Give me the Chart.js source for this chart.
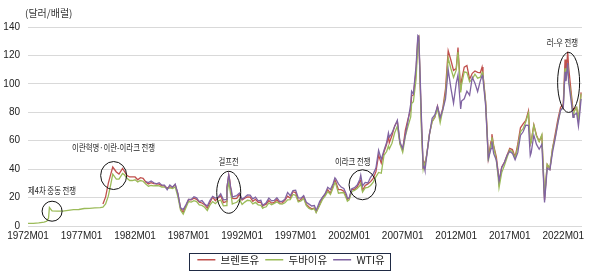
<!DOCTYPE html>
<html>
<head>
<meta charset="utf-8">
<script src="https://cdn.jsdelivr.net/npm/chart.js@4/dist/chart.umd.min.js"></script>
<style>
  body { margin: 0; background: #fff; }
  #oil { display: block; }
</style>
</head>
<body>
<canvas id="oil" width="590" height="275"></canvas>
<script>
// monthly oil prices, sampled (USD per barrel)
var periods = [
  "1972M01", "1972M07",
  "1973M01", "1973M07", "1973M10", "1973M12",
  "1974M01", "1974M04", "1974M10",
  "1975M04", "1975M10",
  "1976M04", "1976M10",
  "1977M04", "1977M10",
  "1978M04", "1978M10",
  "1979M01", "1979M04", "1979M07", "1979M10", "1979M12",
  "1980M04", "1980M07", "1980M11",
  "1981M01", "1981M04", "1981M07", "1981M10",
  "1982M01", "1982M04", "1982M07", "1982M10",
  "1983M01", "1983M04", "1983M07", "1983M10",
  "1984M01", "1984M04", "1984M07", "1984M10",
  "1985M01", "1985M04", "1985M07", "1985M10",
  "1986M01", "1986M04", "1986M07", "1986M10",
  "1987M01", "1987M04", "1987M07", "1987M10",
  "1988M01", "1988M04", "1988M07", "1988M10",
  "1989M01", "1989M04", "1989M07", "1989M10",
  "1990M01", "1990M04", "1990M07", "1990M08", "1990M10", "1990M11", "1990M12",
  "1991M01", "1991M02", "1991M04", "1991M07", "1991M10",
  "1992M01", "1992M04", "1992M07", "1992M10",
  "1993M01", "1993M04", "1993M07", "1993M10", "1993M12",
  "1994M01", "1994M04", "1994M07", "1994M10",
  "1995M01", "1995M04", "1995M07", "1995M10",
  "1996M01", "1996M04", "1996M07", "1996M10",
  "1997M01", "1997M04", "1997M07", "1997M10",
  "1998M01", "1998M04", "1998M07", "1998M10", "1998M12",
  "1999M01", "1999M04", "1999M07", "1999M10",
  "2000M01", "2000M04", "2000M07", "2000M09", "2000M10",
  "2001M01", "2001M04", "2001M07", "2001M10", "2001M11",
  "2002M01", "2002M04", "2002M07", "2002M10",
  "2003M01", "2003M02", "2003M04", "2003M07", "2003M10",
  "2004M01", "2004M04", "2004M07", "2004M10",
  "2005M01", "2005M04", "2005M07", "2005M09", "2005M10",
  "2006M01", "2006M04", "2006M07", "2006M10",
  "2007M01", "2007M04", "2007M07", "2007M10", "2007M11",
  "2008M01", "2008M04", "2008M06", "2008M07", "2008M08", "2008M10", "2008M12",
  "2009M01", "2009M02", "2009M04", "2009M07", "2009M10",
  "2010M01", "2010M04", "2010M07", "2010M10",
  "2011M01", "2011M04", "2011M07", "2011M10",
  "2012M01", "2012M03", "2012M06", "2012M07", "2012M10",
  "2013M01", "2013M04", "2013M07", "2013M10",
  "2014M01", "2014M04", "2014M06", "2014M07", "2014M10", "2014M12",
  "2015M01", "2015M04", "2015M05", "2015M07", "2015M10", "2015M12",
  "2016M01", "2016M04", "2016M07", "2016M10",
  "2017M01", "2017M04", "2017M07", "2017M10",
  "2018M01", "2018M04", "2018M07", "2018M10", "2018M12",
  "2019M01", "2019M04", "2019M07", "2019M10",
  "2020M01", "2020M04", "2020M07", "2020M10",
  "2021M01", "2021M04", "2021M07", "2021M10",
  "2022M01", "2022M03", "2022M04", "2022M06", "2022M07", "2022M10", "2022M12",
  "2023M01", "2023M04", "2023M06", "2023M07", "2023M09"
];

var brent = [
  null, null,
  null, null, null, null,
  null, null, null,
  null, null,
  null, null,
  null, null,
  null, null,
  15.5, 20.5, 30.0, 37.0, 41.5,
  38.0, 36.5, 40.5,
  38.5, 35.5, 34.5, 34.5,
  34.5, 32.5, 34.0, 33.5,
  31.0, 29.5, 30.5, 29.8,
  29.6, 29.4, 28.2, 28.2,
  26.8, 27.5, 27.2, 29.0,
  22.5, 12.5, 9.6, 14.0,
  18.6, 18.4, 19.6, 18.8,
  16.8, 16.2, 15.0, 12.6,
  16.5, 20.4, 17.8, 19.8,
  21.2, 16.5, 17.2, 27.1, 35.9, 32.9, 27.8,
  23.6, 19.5, 19.2, 19.5, 22.3,
  18.3, 19.5, 20.4, 20.3,
  17.4, 18.8, 16.7, 16.8, 13.8,
  14.5, 15.4, 17.9, 16.1,
  16.6, 18.6, 16.0, 16.2,
  18.0, 21.0, 19.6, 24.1,
  23.5, 17.6, 18.6, 20.8,
  15.1, 13.4, 12.1, 12.6, 9.8,
  11.1, 15.2, 19.9, 22.1,
  25.5, 23.0, 28.5, 32.6, 30.9,
  25.6, 25.6, 24.4, 20.4, 18.7,
  19.4, 25.7, 25.8, 27.5,
  31.2, 32.2, 25.0, 28.5, 29.6,
  31.2, 33.4, 38.2, 49.8,
  44.2, 52.0, 57.5, 62.9, 58.5,
  63.6, 70.4, 73.7, 57.9,
  53.7, 67.5, 75.4, 82.0, 91.5,
  92.2, 109.0, 132.3, 133.2, 113.2, 72.8, 40.0,
  44.9, 43.1, 50.6, 64.9, 73.6,
  76.4, 84.3, 75.6, 83.0,
  96.5, 123.3, 116.8, 109.5,
  110.7, 125.5, 95.6, 102.6, 111.7,
  112.9, 103.3, 107.4, 109.1,
  108.1, 107.8, 111.8, 106.8, 87.4, 62.3,
  47.8, 59.5, 64.6, 56.5, 48.5, 38.0,
  30.7, 41.6, 44.7, 49.8,
  54.6, 53.8, 48.5, 57.6,
  69.1, 71.8, 74.3, 81.0, 57.4,
  59.4, 71.2, 63.9, 59.6,
  63.6, 18.4, 43.2, 40.2,
  54.8, 64.8, 75.2, 83.5,
  85.5, 117.2, 104.6, 122.7, 111.9, 93.1, 81.3,
  82.5, 83.4, 74.9, 80.1, 94.0
];

var dubai = [
  1.9, 1.9,
  2.2, 2.7, 3.3, 5.5,
  13.0, 10.6, 10.4,
  10.5, 11.0,
  11.5, 11.6,
  12.3, 12.4,
  12.7, 12.9,
  13.3, 15.5, 21.0, 30.0, 36.5,
  33.0, 33.0, 37.0,
  36.0, 33.5, 32.0, 32.0,
  32.5, 31.0, 32.0, 31.5,
  29.5, 28.0, 28.5, 28.2,
  28.5, 28.2, 27.4, 27.3,
  26.3, 26.8, 26.4, 27.5,
  20.5, 11.0, 8.3, 12.8,
  17.2, 16.8, 17.8, 17.2,
  14.8, 14.5, 13.2, 10.9,
  14.8, 17.2, 15.7, 17.6,
  18.3, 14.2, 14.3, 22.5, 30.5, 27.5, 23.0,
  20.5, 15.5, 16.0, 16.7, 18.8,
  15.2, 16.8, 18.1, 17.8,
  15.6, 16.6, 14.9, 14.6, 12.4,
  12.9, 13.5, 16.2, 15.0,
  15.9, 17.0, 15.6, 15.4,
  16.3, 18.4, 18.5, 22.2,
  21.6, 16.9, 17.6, 19.3,
  14.4, 12.4, 11.6, 12.3, 9.4,
  10.7, 14.6, 18.5, 21.0,
  24.2, 22.1, 26.9, 30.5, 29.6,
  23.1, 23.4, 23.4, 19.2, 17.5,
  18.4, 24.3, 25.1, 26.4,
  28.4, 29.8, 23.9, 26.8, 27.2,
  28.5, 30.9, 34.6, 37.7,
  37.1, 49.7, 52.4, 56.3, 54.2,
  58.2, 65.6, 70.2, 57.5,
  51.9, 63.2, 70.3, 76.8, 86.1,
  87.4, 103.3, 127.8, 131.2, 112.9, 67.6, 40.4,
  44.0, 43.1, 50.1, 64.6, 73.2,
  76.7, 82.7, 72.5, 81.8,
  92.3, 118.2, 110.8, 104.5,
  109.6, 122.5, 94.0, 99.3, 108.5,
  107.9, 101.5, 103.3, 106.8,
  104.0, 104.7, 108.0, 106.1, 86.6, 60.2,
  45.6, 57.8, 62.5, 56.1, 45.9, 34.5,
  26.9, 37.6, 42.5, 48.1,
  53.6, 52.3, 47.7, 55.5,
  66.2, 68.4, 73.3, 79.4, 57.3,
  59.0, 70.9, 63.1, 59.4,
  64.3, 20.4, 43.4, 40.7,
  54.8, 62.5, 72.9, 81.6,
  83.5, 111.0, 102.5, 113.3, 103.2, 90.6, 76.8,
  80.3, 83.5, 74.8, 80.5, 93.0
];

var wti = [
  null, null,
  null, null, null, null,
  null, null, null,
  null, null,
  null, null,
  null, null,
  null, null,
  null, null, null, null, null,
  null, null, null,
  null, null, null, null,
  null, null, null, null,
  31.2, 30.6, 31.7, 30.4,
  29.7, 30.5, 28.7, 28.8,
  25.6, 28.8, 27.3, 29.5,
  22.9, 12.8, 11.6, 14.9,
  18.7, 18.7, 20.5, 19.8,
  17.2, 17.9, 15.5, 14.1,
  18.0, 20.9, 19.6, 20.1,
  22.6, 18.4, 18.6, 27.2, 35.9, 32.3, 27.3,
  25.2, 20.5, 20.8, 21.4, 23.2,
  18.8, 20.2, 21.8, 21.7,
  19.1, 20.3, 17.7, 18.1, 14.5,
  15.0, 16.4, 19.6, 17.7,
  18.0, 19.9, 17.3, 17.4,
  18.9, 23.6, 21.3, 24.9,
  25.2, 19.7, 19.6, 21.3,
  16.7, 15.4, 14.1, 14.4, 11.3,
  12.5, 17.3, 20.1, 22.7,
  27.2, 25.7, 29.7, 33.9, 33.1,
  29.6, 27.4, 26.4, 22.2, 19.6,
  19.7, 26.2, 27.0, 28.8,
  32.9, 35.8, 28.2, 30.7, 30.3,
  34.3, 36.7, 40.7, 53.3,
  46.8, 53.2, 58.7, 65.5, 62.4,
  65.5, 70.0, 74.4, 58.9,
  54.5, 63.9, 74.1, 85.8, 94.8,
  93.0, 112.6, 134.0, 133.4, 116.7, 76.7, 41.1,
  41.7, 39.1, 49.7, 64.2, 75.8,
  78.2, 84.3, 76.3, 81.9,
  89.4, 110.0, 97.2, 86.4,
  100.3, 106.2, 82.3, 87.9, 89.5,
  94.8, 92.0, 104.7, 100.5,
  94.6, 102.1, 105.8, 103.6, 84.4, 59.3,
  47.2, 54.5, 59.3, 50.9, 46.2, 37.2,
  31.7, 41.0, 44.7, 49.8,
  52.5, 51.1, 46.6, 51.6,
  63.7, 66.3, 70.9, 70.8, 49.5,
  51.4, 63.9, 57.4, 54.0,
  57.5, 16.6, 40.7, 39.4,
  52.0, 61.7, 72.4, 81.5,
  83.2, 108.5, 101.8, 114.6, 101.6, 87.0, 76.4,
  78.1, 79.4, 70.3, 76.1, 89.4
];

var seriesNames = ["브렌트유", "두바이유", "WTI유"];
var xTickLabels = ["1972M01", "1977M01", "1982M01", "1987M01", "1992M01", "1997M01", "2002M01", "2007M01", "2012M01", "2017M01", "2022M01"];
var lastPeriod = "2023M10";
var unitLabel = "(달러/배럴)";

// event callouts: ellipse round a period/value, label above
var callouts = [
  { text: "제4차 중동 전쟁", at: "1974M04", value: 10.4, rx: 10, ry: 10, textAt: "1974M04", textValue: 25 },
  { text: "이란혁명·이란-이라크 전쟁", at: "1980M01", value: 35.5, rx: 13, ry: 14, textAt: "1980M01", textValue: 55 },
  { text: "걸프전", at: "1990M10", value: 23.7, rx: 12, ry: 21, textAt: "1990M10", textValue: 45.3 },
  { text: "이라크 전쟁", at: "2003M04", value: 29, rx: 13.5, ry: 15, textAt: "2002M05", textValue: 45.3 },
  { text: "러-우 전쟁", at: "2022M07", value: 101, rx: 11, ry: 30, textAt: "2021M12", textValue: 128.8 }
];

var colors = ["#c0504d", "#9bbb59", "#8064a2"];
var numFont = "'Liberation Sans Narrow', 'Liberation Sans', Arial, sans-serif";
var krFont = "'Noto Sans CJK KR', sans-serif";

function monthIndex(p) {
  return (parseInt(p.slice(0, 4), 10) - 1972) * 12 + parseInt(p.slice(5), 10) - 1;
}

function toPoints(values) {
  return periods.map(function (p, i) {
    return { x: monthIndex(p), y: values[i] };
  });
}

var calloutPlugin = {
  id: "callouts",
  afterDatasetsDraw: function (chart) {
    var ctx = chart.ctx;
    var xs = chart.scales.x, ys = chart.scales.y;
    ctx.save();
    callouts.forEach(function (c) {
      var cx = xs.getPixelForValue(monthIndex(c.at));
      var cy = ys.getPixelForValue(c.value);
      ctx.beginPath();
      ctx.ellipse(cx, cy, c.rx, c.ry, 0, 0, Math.PI * 2);
      ctx.strokeStyle = "#111";
      ctx.lineWidth = 1;
      ctx.stroke();

      var tx = xs.getPixelForValue(monthIndex(c.textAt));
      var ty = ys.getPixelForValue(c.textValue);
      ctx.save();
      ctx.translate(tx, ty);
      ctx.scale(0.82, 1);
      ctx.font = "9px " + krFont;
      ctx.fillStyle = "#222";
      ctx.textAlign = "center";
      ctx.textBaseline = "middle";
      ctx.fillText(c.text, 0, 0);
      ctx.restore();
    });

    // unit, top left
    ctx.font = "10px " + krFont;
    ctx.fillStyle = "#333";
    ctx.textAlign = "left";
    ctx.textBaseline = "middle";
    ctx.fillText(unitLabel, 25, 13);
    ctx.restore();
  },
  afterDraw: function (chart) {
    // frame round the legend
    var ctx = chart.ctx;
    var boxes = chart.legend.legendHitBoxes;
    if (!boxes || !boxes.length) return;
    var first = boxes[0], last = boxes[boxes.length - 1];
    ctx.save();
    ctx.strokeStyle = "#1f2a44";
    ctx.lineWidth = 1;
    ctx.strokeRect(Math.round(first.left - 8) + 0.5, Math.round(first.top - 2) + 0.5,
      Math.round(last.left + last.width - first.left + 14), Math.round(first.height + 6));
    ctx.restore();
  }
};

new Chart(document.getElementById("oil"), {
  type: "line",
  data: {
    datasets: [brent, dubai, wti].map(function (vals, i) {
      return {
        label: seriesNames[i],
        data: toPoints(vals),
        borderColor: colors[i],
        backgroundColor: colors[i],
        borderWidth: 1.3,
        pointRadius: 0,
        tension: 0,
        spanGaps: true,
        order: 3 - i
      };
    })
  },
  options: {
    responsive: false,
    animation: false,
    layout: { padding: { top: 27, right: 8, bottom: 0, left: 0 } },
    plugins: {
      tooltip: { enabled: false },
      legend: {
        position: "bottom",
        labels: {
          usePointStyle: true,
          pointStyle: "line",
          pointStyleWidth: 18,
          padding: 6,
          color: "#222",
          font: { family: krFont, size: 10.5 },
          sort: function (a, b) { return a.datasetIndex - b.datasetIndex; }
        }
      }
    },
    scales: {
      x: {
        type: "linear",
        min: 0,
        max: monthIndex(lastPeriod),
        grid: { display: false, drawTicks: false },
        border: { display: false },
        afterBuildTicks: function (s) {
          s.ticks = xTickLabels.map(function (l) { return { value: monthIndex(l) }; });
        },
        afterFit: function (s) { s.height = 22.5; },
        ticks: {
          autoSkip: false,
          maxRotation: 0,
          padding: 4,
          color: "#222",
          font: { family: numFont, size: 10 },
          callback: function (v) { return xTickLabels[Math.round(v / 60)]; }
        }
      },
      y: {
        min: 0,
        max: 140,
        afterFit: function (s) { s.width = 28; },
        border: { display: false },
        grid: { color: "#d9d9d9", drawTicks: false },
        ticks: {
          stepSize: 20,
          padding: 8,
          color: "#222",
          font: { family: numFont, size: 10 }
        }
      }
    }
  },
  plugins: [calloutPlugin]
});
</script>
</body>
</html>
